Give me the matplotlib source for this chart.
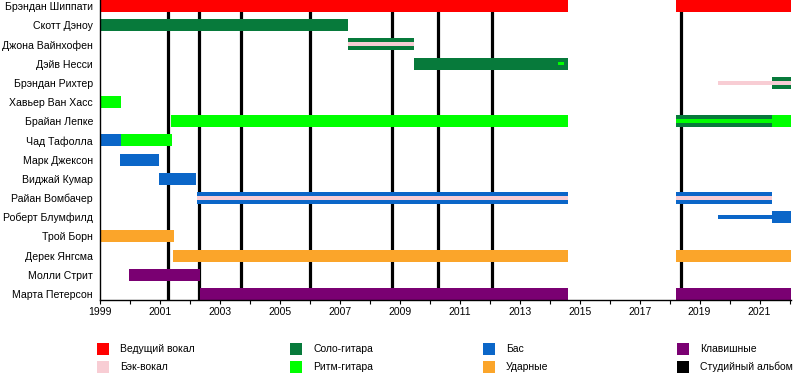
import matplotlib.pyplot as plt
from matplotlib.patches import Rectangle

plt.rcParams["font.family"] = ["Liberation Sans", "DejaVu Sans"]

# band members, top to bottom
members = [
    "Брэндан Шиппати", "Скотт Дэноу", "Джона Вайнхофен", "Дэйв Несси",
    "Брэндан Рихтер", "Хавьер Ван Хасс", "Брайан Лепке", "Чад Тафолла",
    "Марк Джексон", "Виджай Кумар", "Райан Вомбачер", "Роберт Блумфилд",
    "Трой Борн", "Дерек Янгсма", "Молли Стрит", "Марта Петерсон",
]

role_names = ["Ведущий вокал", "Бэк-вокал", "Соло-гитара", "Ритм-гитара",
              "Бас", "Ударные", "Клавишные", "Студийный альбом"]
role_colors = ["#ff0000", "#f8cdd4", "#077a3b", "#00ff00",
               "#0b66c8", "#fba52a", "#7a0072", "#000000"]
colors = dict(zip(role_names, role_colors))

END = 2022.05

# (member index, role, start, end, style) style: full / stripe / thin
spans = [
    (0, "Ведущий вокал", 1999.0, 2014.6, "full"),
    (0, "Ведущий вокал", 2018.23, END, "full"),
    (1, "Соло-гитара", 1999.0, 2007.27, "full"),
    (2, "Соло-гитара", 2007.27, 2009.47, "full"),
    (2, "Бэк-вокал", 2007.27, 2009.47, "stripe"),
    (3, "Соло-гитара", 2009.47, 2014.6, "full"),
    (3, "Ритм-гитара", 2014.27, 2014.47, "stripe"),
    (4, "Бэк-вокал", 2019.6, END, "thin"),
    (4, "Соло-гитара", 2021.4, END, "full"),
    (4, "Бэк-вокал", 2021.4, END, "stripe"),
    (5, "Ритм-гитара", 1999.0, 1999.7, "full"),
    (6, "Ритм-гитара", 2001.37, 2014.6, "full"),
    (6, "Соло-гитара", 2018.23, 2021.4, "full"),
    (6, "Ритм-гитара", 2018.23, 2021.4, "stripe"),
    (6, "Ритм-гитара", 2021.4, END, "full"),
    (7, "Бас", 1999.0, 1999.7, "full"),
    (7, "Ритм-гитара", 1999.7, 2001.4, "full"),
    (8, "Бас", 1999.67, 2000.97, "full"),
    (9, "Бас", 2000.97, 2002.2, "full"),
    (10, "Бас", 2002.23, 2014.6, "full"),
    (10, "Бэк-вокал", 2002.23, 2014.6, "stripe"),
    (10, "Бас", 2018.23, 2021.4, "full"),
    (10, "Бэк-вокал", 2018.23, 2021.4, "stripe"),
    (11, "Бас", 2019.6, 2021.4, "thin"),
    (11, "Бас", 2021.4, END, "full"),
    (12, "Ударные", 1999.0, 2001.47, "full"),
    (13, "Ударные", 2001.43, 2014.6, "full"),
    (13, "Ударные", 2018.23, END, "full"),
    (14, "Клавишные", 1999.97, 2002.33, "full"),
    (15, "Клавишные", 2002.33, 2014.6, "full"),
    (15, "Клавишные", 2018.23, END, "full"),
]

albums = [2001.28, 2002.31, 2003.72, 2006.0, 2008.73, 2010.28, 2012.08, 2018.37]

heights = {"full": 0.62, "stripe": 0.2, "thin": 0.2}

fig = plt.figure(figsize=(8, 3.75), dpi=100)
ax = fig.add_axes([0.125, 0.2, 0.86375, 0.8])

for x in albums:
    ax.axvline(x, color="black", lw=2.3, zorder=1)

for row, role, start, end, style in spans:
    ax.barh(row, end - start, left=start, height=heights[style],
            color=colors[role], zorder=2, linewidth=0)

ax.set_yticks(range(len(members)))
ax.set_yticklabels(members, fontsize=7.6)
ax.set_ylim(15.31, -0.31)
ax.set_xlim(1999, END)
ax.set_xticks(range(1999, 2022, 2))
ax.set_xticks(range(1999, 2023), minor=True)
ax.tick_params(axis="x", labelsize=7.5, length=3, width=0.8, pad=2)
ax.tick_params(axis="x", which="minor", length=3, width=0.8)
ax.tick_params(axis="y", length=0, pad=5)
ax.spines["top"].set_visible(False)
ax.spines["right"].set_visible(False)
ax.spines["left"].set_linewidth(1)
ax.spines["bottom"].set_linewidth(1)

# legend, 4 columns x 2 rows
col_x = [97, 290, 483, 677]
row_y = [349, 367]
for i, (name, col) in enumerate(zip(role_names, role_colors)):
    cx = col_x[i // 2]
    cy = row_y[i % 2]
    fig.add_artist(Rectangle(((cx) / 800, 1 - (cy + 6) / 375), 12 / 800, 12 / 375,
                             transform=fig.transFigure, facecolor=col, edgecolor="none"))
    fig.text((cx + 23) / 800, 1 - cy / 375, name, fontsize=7.5, va="center", ha="left")

fig.savefig("out.png", dpi=100)
